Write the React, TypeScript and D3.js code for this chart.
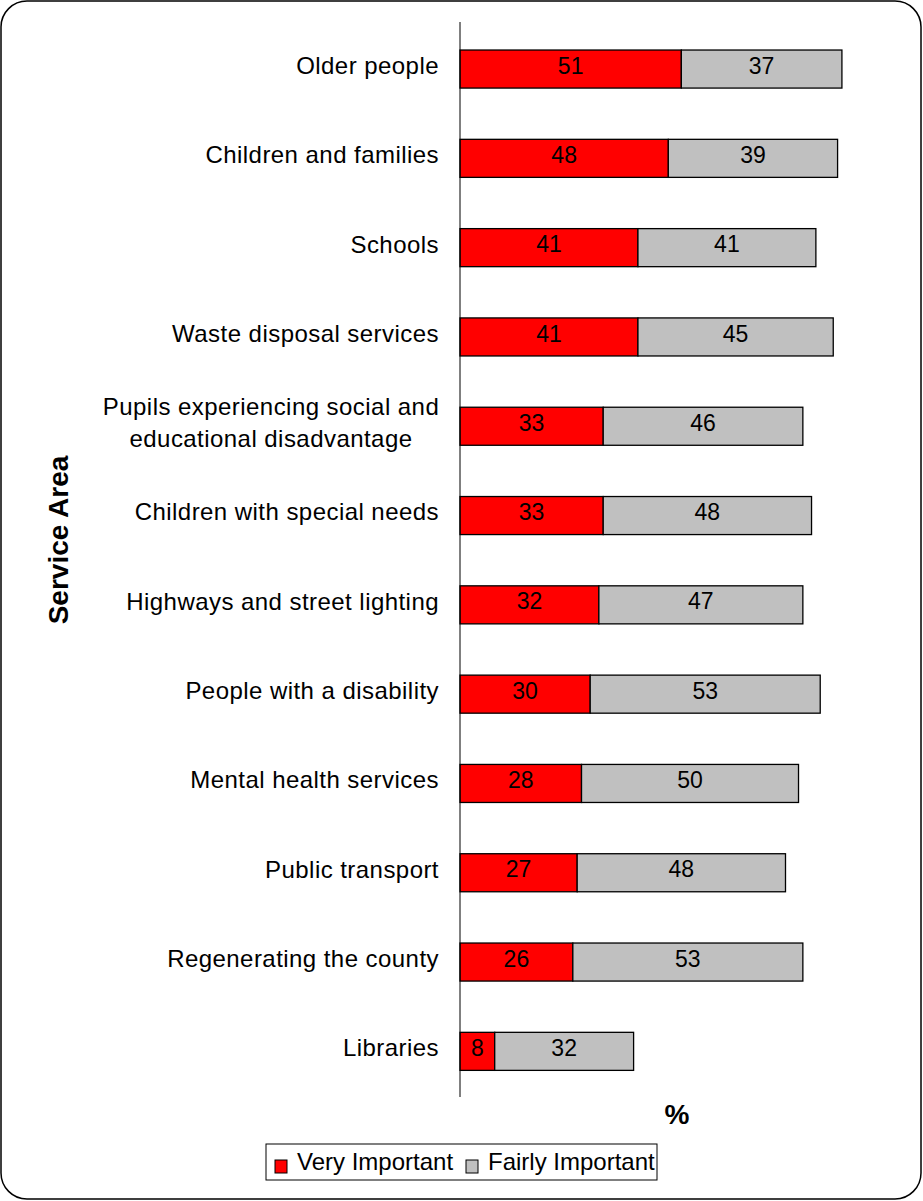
import React from "react";
import * as d3 from "d3";

const categories = [
  "Older people",
  "Children and families",
  "Schools",
  "Waste disposal services",
  "Pupils experiencing social and|educational disadvantage",
  "Children with special needs",
  "Highways and street lighting",
  "People with a disability",
  "Mental health services",
  "Public transport",
  "Regenerating the county",
  "Libraries",
];
const veryImportant = [51, 48, 41, 41, 33, 33, 32, 30, 28, 27, 26, 8];
const fairlyImportant = [37, 39, 41, 45, 46, 48, 47, 53, 50, 48, 53, 32];
const seriesNames = ["Very Important", "Fairly Important"];
const seriesColors = ["#ff0000", "#c0c0c0"];

const W = 923;
const H = 1201;
const FONT = "'Liberation Sans', Arial, sans-serif";

export default function App() {
  const x = d3.scaleLinear().domain([0, 100]).range([460, 894]);
  const y = d3
    .scaleBand<string>()
    .domain(categories)
    .range([24.4, 1096])
    .paddingInner(0.574)
    .paddingOuter(0.287);
  const bh = y.bandwidth();

  return (
    <svg width={W} height={H} style={{ position: "absolute", left: 0, top: 0 }} fontFamily={FONT}>
      <rect x={1} y={1} width={W - 3} height={H - 3} rx={26} ry={26} fill="#fff" stroke="#000" strokeWidth={1.5} />
      {categories.map((c, i) => {
        const y0 = y(c)!;
        const cy = y0 + bh / 2 - 3.5;
        const v1 = veryImportant[i];
        const v2 = fairlyImportant[i];
        const lines = c.split("|");
        return (
          <g key={c}>
            <rect x={x(0)} y={y0} width={x(v1) - x(0)} height={bh} fill={seriesColors[0]} stroke="#000" strokeWidth={1.3} />
            <rect x={x(v1)} y={y0} width={x(v1 + v2) - x(v1)} height={bh} fill={seriesColors[1]} stroke="#000" strokeWidth={1.3} />
            <text x={(x(0) + x(v1)) / 2} y={cy} dy="0.35em" textAnchor="middle" fontSize={23} fill="#000">{v1}</text>
            <text x={(x(v1) + x(v1 + v2)) / 2} y={cy} dy="0.35em" textAnchor="middle" fontSize={23} fill="#000">{v2}</text>
            {lines.map((l, j) => (
              <text
                key={j}
                x={lines.length > 1 ? 271 : 439}
                y={cy + (j - (lines.length - 1) / 2) * 32}
                dy="0.35em"
                textAnchor={lines.length > 1 ? "middle" : "end"}
                fontSize={24}
                letterSpacing={0.45}
                fill="#000"
              >
                {l}
              </text>
            ))}
          </g>
        );
      })}
      <line x1={x(0)} x2={x(0)} y1={22} y2={1097} stroke="#000" strokeWidth={1} />
      <text x={677} y={1114} dy="0.35em" textAnchor="middle" fontSize={28} fontWeight="bold">%</text>
      <text transform="translate(58,540) rotate(-90)" dy="0.35em" textAnchor="middle" fontSize={28} fontWeight="bold">Service Area</text>
      <g>
        <rect x={266} y={1144} width={391} height={36} fill="#fff" stroke="#000" strokeWidth={1} />
        {seriesNames.map((s, i) => {
          const lx = i === 0 ? 275 : 466;
          return (
            <g key={s}>
              <rect x={lx} y={1160} width={12} height={13} fill={seriesColors[i]} stroke="#000" strokeWidth={1} />
              <text x={lx + 22} y={1162} dy="0.35em" fontSize={24}>{s}</text>
            </g>
          );
        })}
      </g>
    </svg>
  );
}
